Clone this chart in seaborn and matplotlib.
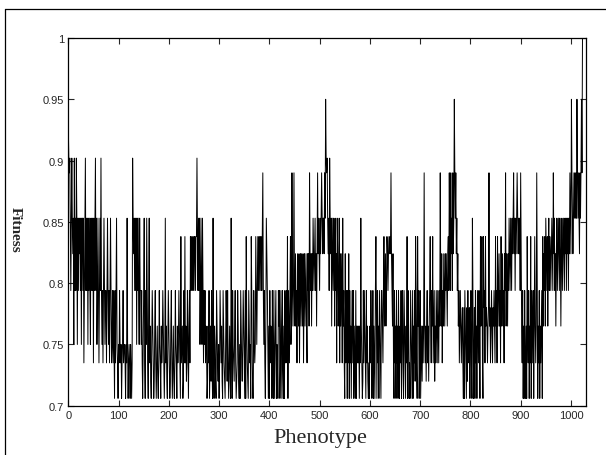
import matplotlib
matplotlib.use("Agg")
import matplotlib.pyplot as plt
from matplotlib.lines import Line2D
import numpy as np
import pandas as pd
import seaborn as sns

# fitness levels seen in the picture, coded by one character each
level_codes = "0123456789abcdefg"
level_values = [0.706, 0.720, 0.735, 0.750, 0.765, 0.780, 0.794, 0.810, 0.824,
                0.838, 0.853, 0.868, 0.890, 0.902, 0.928, 0.950, 1.000]

# fitness of phenotypes 0..1023, 64 per row
fitness_rows = [
    "edcda6ada8a3d6a6" "da3a6a8a6a3aa6a2" "6ad6a6a3a6a63a6a" "6a2a6ad6a36a626a",
    "6d63626a636626a6" "3626a62362630626" "a320326323023623" "32032a3023203202",
    "da8a6a6a3a6a63a6" "6362036a2063a620" "6a24103642014620" "2410263204236420",
    "2a24103642014620" "2410263204236420" "9234016292412640" "3629696969699699",
    "d96a6a36a63a6263" "6243014260241620" "a204310642130264" "2410642103641620",
    "2410a40632146201" "2641030642136420" "6094210642309620" "0632396369696996",
    "969c636204a86304" "0624306206024603" "2064602630620406" "2462906426934c64",
    "6c64846286482684" "8648268468428684" "c868486a868a6848" "c8a86a8aca8aa8ca",
    "fdcda8a6da8a4a86" "a84a682a846a2846" "82a4620826406280" "6240462604206042",
    "424042a420162642" "0624102042640260" "4206940624064206" "6426946846986898",
    "98c8648206240624" "0620426046206420" "4290640206420604" "2619620946026024",
    "1424c42414624146" "9426492461426426" "4264c64826486486" "864896c86c8a6c8a",
    "fcac8a6846246424" "5205064205162450" "4620a60250624064" "2640946920956294",
    "54245c4524642546" "4294629468462946" "846286c486486a86" "a86a8ac8a6a8aca8",
    "a8a6c84260406204" "0942604290642604" "9424c60426042460" "948694a86948a698",
    "68a86c8a6848a68a" "86a848a68a86a8a6" "a8a6a8ca8fca8aca" "cacafcaca8cacfcg",
]

x_ticks = [0, 100, 200, 300, 400, 500, 600, 700, 800, 900, 1000]
y_ticks = [0.7, 0.75, 0.8, 0.85, 0.9, 0.95, 1.0]
y_tick_labels = ["0.7", "0.75", "0.8", "0.85", "0.9", "0.95", "1"]

codes = "".join(fitness_rows)
fitness = [level_values[level_codes.index(c)] for c in codes]
df = pd.DataFrame({"Phenotype": np.arange(len(fitness)), "Fitness": fitness})

sns.set_style("ticks")
plt.rcParams["font.family"] = ["Liberation Sans", "DejaVu Sans"]

fig = plt.figure(figsize=(6.06, 4.56), dpi=100)
ax = fig.add_axes([0.1127, 0.108, 0.967 - 0.1127, 0.9145 - 0.108])

sns.lineplot(data=df, x="Phenotype", y="Fitness", color="black", linewidth=0.7,
             estimator=None, sort=False, ax=ax)

ax.set_xlim(0, 1030)
ax.set_ylim(0.7, 1.0)
ax.set_xticks(x_ticks)
ax.set_xticklabels([str(t) for t in x_ticks], fontsize=8)
ax.set_yticks(y_ticks)
ax.set_yticklabels(y_tick_labels, fontsize=8)
ax.tick_params(direction="in", length=4, width=0.8, top=True, right=True, pad=3)
for sp in ax.spines.values():
    sp.set_visible(True)
    sp.set_linewidth(0.9)
    sp.set_color("black")
ax.set_xlabel("")
ax.set_ylabel("")

fig.text(0.528, 0.039, "Phenotype", ha="center", va="center", fontsize=16,
         family="Liberation Serif")
fig.text(0.026, 0.495, "Fitness", ha="center", va="center", fontsize=11,
         rotation=270, fontweight="bold", family="Liberation Serif")

# outer frame of the scanned figure (left and top edges)
fig.add_artist(Line2D([0.0076, 0.0076], [0.0, 0.979], transform=fig.transFigure,
                      color="black", linewidth=0.9))
fig.add_artist(Line2D([0.0076, 1.0], [0.979, 0.979], transform=fig.transFigure,
                      color="black", linewidth=0.9))

fig.savefig("out.png", dpi=100)
